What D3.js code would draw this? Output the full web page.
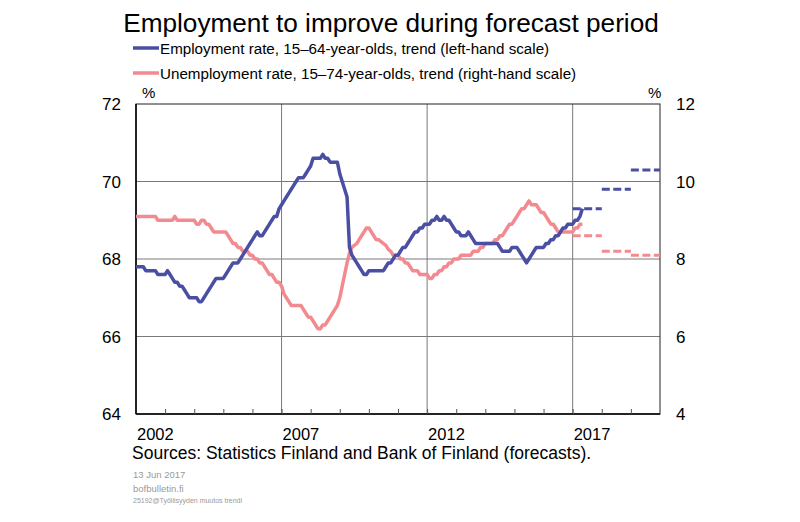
<!DOCTYPE html>
<html>
<head>
<meta charset="utf-8">
<script src="https://cdn.jsdelivr.net/npm/d3@7"></script>
<style>
  body { margin: 0; background: #fff; }
  text { font-family: Arial, "Liberation Sans", sans-serif; }
</style>
</head>
<body>
<div id="canvas"></div>
<script>
//chart values, monthly trend from Jan 2002
var startYear = 2002;
var employment = [
  67.8, 67.8, 67.8, 67.8, 67.7, 67.7, 67.7, 67.7, 67.7, 67.6, 67.6, 67.6,
  67.6, 67.7, 67.6, 67.5, 67.4, 67.4, 67.3, 67.3, 67.2, 67.1, 67.0, 67.0,
  67.0, 67.0, 66.9, 66.9, 67.0, 67.1, 67.2, 67.3, 67.4, 67.5, 67.5, 67.5,
  67.5, 67.6, 67.7, 67.8, 67.9, 67.9, 67.9, 68.0, 68.1, 68.2, 68.3, 68.4,
  68.5, 68.6, 68.7, 68.6, 68.6, 68.7, 68.8, 68.9, 69.0, 69.1, 69.1, 69.3,
  69.4, 69.5, 69.6, 69.7, 69.8, 69.9, 70.0, 70.1, 70.1, 70.1, 70.2, 70.3,
  70.4, 70.6, 70.6, 70.6, 70.6, 70.7, 70.6, 70.6, 70.5, 70.5, 70.5, 70.5,
  70.2, 70.0, 69.8, 69.6, 68.3, 68.1, 68.0, 67.9, 67.8, 67.7, 67.6, 67.6,
  67.7, 67.7, 67.7, 67.7, 67.7, 67.7, 67.7, 67.8, 67.9, 67.9, 68.0, 68.1,
  68.1, 68.2, 68.3, 68.3, 68.4, 68.5, 68.6, 68.7, 68.7, 68.8, 68.8, 68.9,
  68.9, 68.9, 69.0, 69.0, 69.1, 69.0, 69.0, 69.1, 69.0, 69.0, 68.9, 68.8,
  68.7, 68.7, 68.6, 68.6, 68.6, 68.7, 68.6, 68.5, 68.4, 68.4, 68.4, 68.4,
  68.4, 68.4, 68.4, 68.4, 68.4, 68.4, 68.3, 68.2, 68.2, 68.2, 68.2, 68.3,
  68.3, 68.3, 68.2, 68.1, 68.0, 67.9, 68.0, 68.1, 68.2, 68.3, 68.3, 68.3,
  68.3, 68.4, 68.4, 68.5, 68.5, 68.6, 68.6, 68.7, 68.8, 68.8, 68.9, 68.9,
  68.9, 69.0, 69.0, 69.1, 69.3
];
var unemployment = [
  9.1, 9.1, 9.1, 9.1, 9.1, 9.1, 9.1, 9.1, 9.1, 9.0, 9.0, 9.0,
  9.0, 9.0, 9.0, 9.0, 9.1, 9.0, 9.0, 9.0, 9.0, 9.0, 9.0, 9.0,
  9.0, 8.9, 8.9, 9.0, 9.0, 8.9, 8.9, 8.8, 8.7, 8.7, 8.7, 8.7,
  8.7, 8.7, 8.6, 8.5, 8.4, 8.4, 8.3, 8.3, 8.2, 8.2, 8.2, 8.1,
  8.1, 8.0, 8.0, 7.9, 7.9, 7.8, 7.7, 7.6, 7.6, 7.5, 7.4, 7.4,
  7.3, 7.1, 7.0, 6.9, 6.8, 6.8, 6.8, 6.8, 6.8, 6.7, 6.6, 6.5,
  6.5, 6.4, 6.3, 6.2, 6.2, 6.3, 6.3, 6.4, 6.5, 6.6, 6.7, 6.8,
  7.0, 7.3, 7.6, 7.9, 8.15, 8.3, 8.35, 8.4, 8.5, 8.6, 8.7, 8.8,
  8.8, 8.7, 8.6, 8.5, 8.5, 8.45, 8.4, 8.35, 8.25, 8.2, 8.1, 8.1,
  8.1, 8.0, 8.0, 7.9, 7.9, 7.8, 7.7, 7.7, 7.7, 7.6, 7.6, 7.6,
  7.6, 7.5, 7.5, 7.6, 7.6, 7.7, 7.7, 7.8, 7.8, 7.9, 7.9, 8.0,
  8.0, 8.0, 8.1, 8.1, 8.1, 8.1, 8.1, 8.2, 8.2, 8.2, 8.3, 8.3,
  8.4, 8.4, 8.4, 8.4, 8.5, 8.5, 8.6, 8.6, 8.7, 8.8, 8.9, 8.9,
  9.0, 9.1, 9.2, 9.3, 9.3, 9.4, 9.5, 9.4, 9.4, 9.4, 9.3, 9.2,
  9.2, 9.1, 9.0, 8.9, 8.9, 8.8, 8.7, 8.7, 8.7, 8.7, 8.7, 8.7,
  8.7, 8.8, 8.8, 8.9, 8.9
];
//annual forecasts
var forecastYears = [2017, 2018, 2019];
var employmentForecast = [69.3, 69.8, 70.3];
var unemploymentForecast = [8.6, 8.2, 8.1];

var yearLabels = [2002, 2007, 2012, 2017];
var gridYears = [2007, 2012, 2017];
var leftTicks = [64, 66, 68, 70, 72];
var rightTicks = [4, 6, 8, 10, 12];

//plot area
var cv = {
  'width': 800,
  'height': 522,
  'top': 104,
  'right': 660,
  'bottom': 414,
  'left': 136
};

var blue = '#4A4FA3';
var pink = '#F28A8F';

var xScale = d3.scaleLinear()
  .domain([2002, 2020])
  .range([cv.left, cv.right]);

var yLeft = d3.scaleLinear()
  .domain([64, 72])
  .range([cv.bottom, cv.top]);

var yRight = d3.scaleLinear()
  .domain([4, 12])
  .range([cv.bottom, cv.top]);

var svg = d3.select('#canvas').append('svg')
  .attr('width', cv.width)
  .attr('height', cv.height);

//gridlines
svg.selectAll('.hgrid')
  .data(leftTicks.slice(1, -1))
  .enter().append('line')
  .attr('x1', cv.left).attr('x2', cv.right)
  .attr('y1', d => yLeft(d)).attr('y2', d => yLeft(d))
  .attr('stroke', '#7a7a7a').attr('stroke-width', 1);

svg.selectAll('.vgrid')
  .data(gridYears)
  .enter().append('line')
  .attr('x1', d => xScale(d)).attr('x2', d => xScale(d))
  .attr('y1', cv.top).attr('y2', cv.bottom)
  .attr('stroke', '#7a7a7a').attr('stroke-width', 1);

//frame
svg.append('rect')
  .attr('x', cv.left).attr('y', cv.top)
  .attr('width', cv.right - cv.left).attr('height', cv.bottom - cv.top)
  .attr('fill', 'none').attr('stroke', '#222').attr('stroke-width', 1);

svg.append('line')
  .attr('x1', cv.left).attr('x2', cv.left)
  .attr('y1', cv.top).attr('y2', cv.bottom)
  .attr('stroke', '#000').attr('stroke-width', 1.5);
svg.append('line')
  .attr('x1', cv.left).attr('x2', cv.right)
  .attr('y1', cv.bottom).attr('y2', cv.bottom)
  .attr('stroke', '#000').attr('stroke-width', 1.5);

//year ticks on bottom axis, pointing in
var xAxis = d3.axisTop(xScale)
  .tickValues(d3.range(2003, 2020))
  .tickSize(5)
  .tickFormat('');
svg.append('g')
  .attr('transform', 'translate(0,' + cv.bottom + ')')
  .call(xAxis)
  .call(g => g.select('.domain').remove())
  .call(g => g.selectAll('line').attr('stroke', '#555'));

//axis labels
svg.selectAll('.xlab')
  .data(yearLabels)
  .enter().append('text')
  .attr('x', d => xScale(d) + 1)
  .attr('y', 440)
  .attr('font-size', 16.5)
  .text(d => d);

svg.selectAll('.ylabL')
  .data(leftTicks)
  .enter().append('text')
  .attr('x', 121)
  .attr('y', d => yLeft(d) + 6)
  .attr('text-anchor', 'end')
  .attr('font-size', 17)
  .text(d => d);

svg.selectAll('.ylabR')
  .data(rightTicks)
  .enter().append('text')
  .attr('x', 676)
  .attr('y', d => yRight(d) + 6)
  .attr('font-size', 17)
  .text(d => d);

svg.append('text').attr('x', 142).attr('y', 98).attr('font-size', 15).text('%');
svg.append('text').attr('x', 648).attr('y', 98).attr('font-size', 15).text('%');

//series lines
var monthX = (d, i) => xScale(startYear + i / 12);

var lineL = d3.line().x(monthX).y(d => yLeft(d));
var lineR = d3.line().x(monthX).y(d => yRight(d));

svg.append('path')
  .datum(unemployment)
  .attr('d', lineR)
  .attr('fill', 'none')
  .attr('stroke', pink)
  .attr('stroke-width', 3.5)
  .attr('stroke-linejoin', 'round');

svg.append('path')
  .datum(employment)
  .attr('d', lineL)
  .attr('fill', 'none')
  .attr('stroke', blue)
  .attr('stroke-width', 3.5)
  .attr('stroke-linejoin', 'round');

//forecast dashes, one per year
svg.selectAll('.fcU')
  .data(unemploymentForecast)
  .enter().append('line')
  .attr('x1', (d, i) => xScale(forecastYears[i]))
  .attr('x2', (d, i) => xScale(forecastYears[i] + 1))
  .attr('y1', d => yRight(d)).attr('y2', d => yRight(d))
  .attr('stroke', pink).attr('stroke-width', 3)
  .attr('stroke-dasharray', '8,3.5');

svg.selectAll('.fcE')
  .data(employmentForecast)
  .enter().append('line')
  .attr('x1', (d, i) => xScale(forecastYears[i]))
  .attr('x2', (d, i) => xScale(forecastYears[i] + 1))
  .attr('y1', d => yLeft(d)).attr('y2', d => yLeft(d))
  .attr('stroke', blue).attr('stroke-width', 3)
  .attr('stroke-dasharray', '8,3.5');

//title and legend
svg.append('text')
  .attr('x', 391).attr('y', 32)
  .attr('text-anchor', 'middle')
  .attr('font-size', 26.2)
  .text('Employment to improve during forecast period');

var legend = [
  {label: 'Employment rate, 15\u201364-year-olds, trend (left-hand scale)', color: blue, y: 48},
  {label: 'Unemployment rate, 15\u201374-year-olds, trend (right-hand scale)', color: pink, y: 73}
];
svg.selectAll('.legline')
  .data(legend)
  .enter().append('line')
  .attr('x1', 133).attr('x2', 159)
  .attr('y1', d => d.y).attr('y2', d => d.y)
  .attr('stroke', d => d.color).attr('stroke-width', 3.5);
svg.selectAll('.legtext')
  .data(legend)
  .enter().append('text')
  .attr('x', 160).attr('y', d => d.y + 6)
  .attr('font-size', 15.2)
  .text(d => d.label);

//sources and footer
svg.append('text')
  .attr('x', 132).attr('y', 459)
  .attr('font-size', 17.5)
  .text('Sources: Statistics Finland and Bank of Finland (forecasts).');

var footer = [
  {t: '13 Jun 2017', y: 478, s: 9.5},
  {t: 'bofbulletin.fi', y: 492, s: 9.5},
  {t: '25192@Työllisyyden muutos trendi', y: 503, s: 7}
];
svg.selectAll('.foot')
  .data(footer)
  .enter().append('text')
  .attr('x', 133).attr('y', d => d.y)
  .attr('font-size', d => d.s)
  .attr('fill', '#999')
  .text(d => d.t);
</script>
</body>
</html>
